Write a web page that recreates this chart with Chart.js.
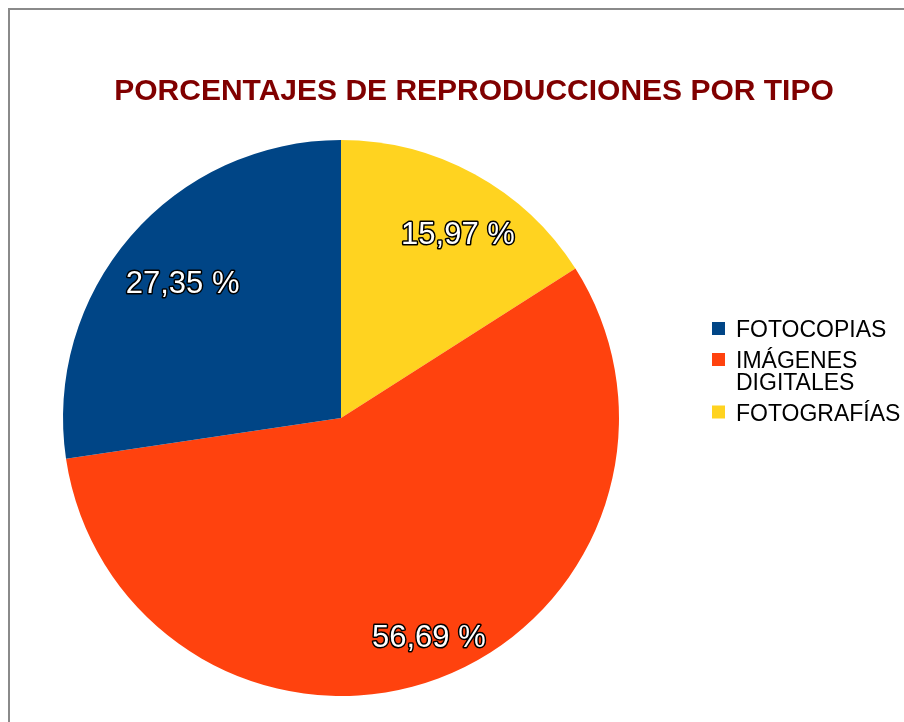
<!DOCTYPE html>
<html>
<head>
<meta charset="utf-8">
<title>Porcentajes de reproducciones por tipo</title>
<script src="https://cdn.jsdelivr.net/npm/chart.js@4.4.1/dist/chart.umd.min.js"></script>
<style>
  html, body { margin: 0; padding: 0; background: #fff; }
  #wrap { position: relative; width: 904px; height: 722px; }
</style>
</head>
<body>
<div id="wrap"><canvas id="chart" width="904" height="722"></canvas></div>
<script>
// slices in drawing order (clockwise from 12 o'clock)
const categories = ['FOTOGRAFÍAS', 'IMÁGENES DIGITALES', 'FOTOCOPIAS'];
const percentages = [15.97, 56.69, 27.35];
const sliceColors = ['#ffd320', '#ff420e', '#004586'];
const chartTitle = 'PORCENTAJES DE REPRODUCCIONES POR TIPO';

const FONT = '"Liberation Sans", Arial, sans-serif';

// frame, title, legend and value labels
const decorations = {
    id: 'decorations',
    afterDraw(chart) {
        const ctx = chart.ctx;
        ctx.save();

        // frame (left + top edge of the chart box)
        ctx.strokeStyle = '#8a8a8a';
        ctx.lineWidth = 2;
        ctx.beginPath();
        ctx.moveTo(9, 722);
        ctx.lineTo(9, 9);
        ctx.lineTo(904, 9);
        ctx.stroke();

        // title
        ctx.fillStyle = '#800000';
        ctx.font = 'bold 30px ' + FONT;
        ctx.textAlign = 'center';
        ctx.textBaseline = 'alphabetic';
        ctx.fillText(chartTitle, 474, 100);

        // value labels inside slices
        const meta = chart.getDatasetMeta(0);
        ctx.font = '31px ' + FONT;
        ctx.textAlign = 'center';
        ctx.textBaseline = 'middle';
        ctx.lineJoin = 'round';
        meta.data.forEach((arc, i) => {
            const p = arc.getProps(['x', 'y', 'startAngle', 'endAngle', 'outerRadius'], true);
            const mid = (p.startAngle + p.endAngle) / 2;
            const r = p.outerRadius * 0.8;
            const x = p.x + Math.cos(mid) * r + 10;
            const y = p.y + Math.sin(mid) * r + 12;
            const text = percentages[i].toFixed(2).replace('.', ',') + ' %';
            ctx.strokeStyle = '#000';
            ctx.lineWidth = 3;
            ctx.strokeText(text, x, y);
            ctx.fillStyle = '#fff';
            ctx.fillText(text, x, y);
        });

        // legend (reverse of drawing order)
        ctx.font = '23px ' + FONT;
        ctx.textAlign = 'left';
        ctx.textBaseline = 'alphabetic';
        const maxW = 170;
        let baseline = 337;
        for (let i = categories.length - 1; i >= 0; i--) {
            const words = categories[i].split(' ');
            const lines = [];
            let cur = '';
            words.forEach(w => {
                const test = cur ? cur + ' ' + w : w;
                if (cur && ctx.measureText(test).width > maxW) {
                    lines.push(cur);
                    cur = w;
                } else {
                    cur = test;
                }
            });
            lines.push(cur);

            ctx.fillStyle = sliceColors[i];
            ctx.fillRect(712, baseline - 15, 13, 13);
            ctx.fillStyle = '#000';
            lines.forEach((line, j) => {
                ctx.fillText(line, 736, baseline + j * 21.5);
            });
            baseline += (lines.length - 1) * 21.5 + 31;
        }

        ctx.restore();
    }
};

new Chart(document.getElementById('chart'), {
    type: 'pie',
    data: {
        labels: categories,
        datasets: [{
            data: percentages,
            backgroundColor: sliceColors,
            borderWidth: 0
        }]
    },
    options: {
        responsive: false,
        animation: false,
        layout: {
            padding: { left: 63, right: 285, top: 140, bottom: 26 }
        },
        plugins: {
            legend: { display: false },
            title: { display: false },
            tooltip: { enabled: false }
        }
    },
    plugins: [decorations]
});
</script>
</body>
</html>
